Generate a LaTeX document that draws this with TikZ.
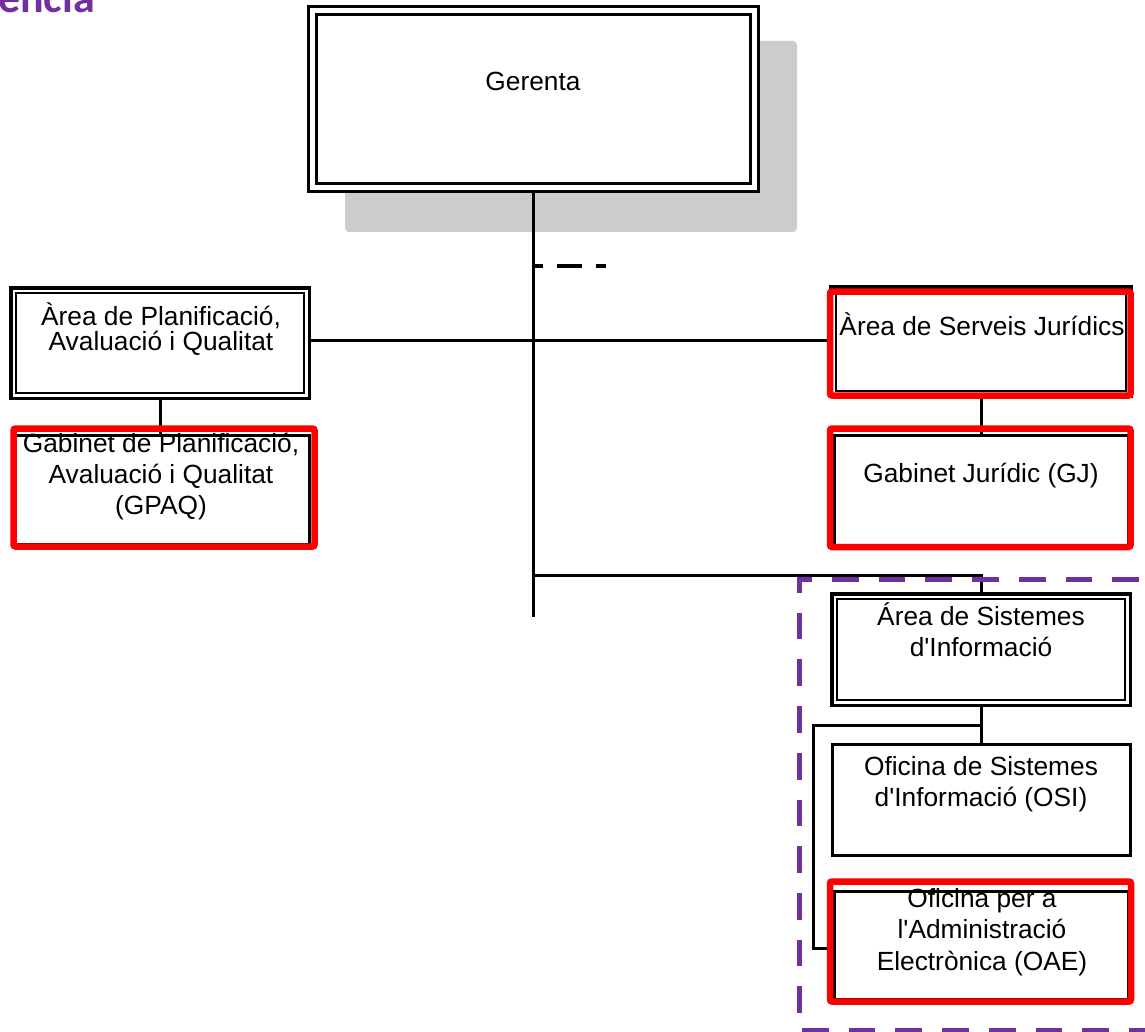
\documentclass[tikz,border=0pt]{standalone}
\usepackage{fontspec}
\setmainfont{Liberation Sans}[Ligatures=TeXOff]
\newfontfamily\titlefont{Carlito}
\usetikzlibrary{backgrounds}
\definecolor{shadowgray}{HTML}{CCCCCC}
\definecolor{hlred}{HTML}{FF0000}
\definecolor{grppurple}{HTML}{7030A0}
\newcommand{\mlines}[1]{\vtop{\lineskiplimit=-1000pt\halign{\hfil##\hfil\cr#1\crcr}}}
\begin{document}
\begin{tikzpicture}[x=1pt,y=-1pt,
  conn/.style={draw=black, line width=3pt},
  stubline/.style={draw=black, line width=3.5pt, dash pattern=on 10pt off 14pt on 25pt off 14pt on 10pt off 200pt},
  gerbox/.style={draw=black, line width=3pt, double=white, double distance=5pt, fill=white, rectangle, inner sep=0pt, outer sep=0pt},
  dblbox/.style={draw=black, line width=3.5pt, fill=white, rectangle, inner sep=0pt, outer sep=0pt},
  innerline/.style={draw=black, line width=2pt},
  plainbox/.style={draw=black, line width=3pt, rectangle, inner sep=0pt, outer sep=0pt},
  redbox/.style={draw=hlred, line width=6.5pt, rectangle, rounded corners=2pt, inner sep=0pt, outer sep=0pt},
  lbl/.style={font=\fontsize{26.3}{31.7}\selectfont, inner sep=0pt, anchor=base, text=black},
  lbltight/.style={lbl, font=\fontsize{26.3}{25}\selectfont},
  titletext/.style={font=\titlefont\bfseries\fontsize{44}{50}\selectfont, text=grppurple, inner sep=0pt, anchor=base west},
  grpframe/.style={draw=grppurple, line width=5pt, dash pattern=on 26.7pt off 20pt, dash phase=35.6pt}
]
\useasboundingbox (0,0) rectangle (1145,1032);

% title (cut off at page edge, as in the reference)
\node[titletext] (title) at (-2,12.7) {ència};

% boxes
\node[gerbox, minimum width=441.5pt, minimum height=177.5pt] (ger) at (533.25,99.25) {};
\node[dblbox, minimum width=298.5pt, minimum height=110.5pt] (apaq) at (160,343) {};
\node[dblbox, minimum width=300.5pt, minimum height=109.5pt] (asj) at (981,341.5) {};
\node[dblbox, minimum width=298.5pt, minimum height=111.5pt] (asi) at (981,649.5) {};
\foreach \n in {apaq,asj,asi}
  \draw[innerline] ([shift={(5pt,5pt)}]\n.south west) rectangle ([shift={(-5pt,-5pt)}]\n.north east);
\node[plainbox, minimum width=294pt, minimum height=109pt] (gpaq) at (162,489.5) {};
\node[plainbox, minimum width=294pt, minimum height=110pt] (gj) at (981,490) {};
\node[plainbox, minimum width=298pt, minimum height=111pt] (osi) at (981,799.5) {};
\node[plainbox, minimum width=294pt, minimum height=107.5pt] (oae) at (981,945.25) {};

% red highlights
\node[redbox, minimum width=301pt, minimum height=118pt] (gpaqred) at (164,487.5) {};
\node[redbox, minimum width=300.5pt, minimum height=104pt] (asjred) at (980.25,343.5) {};
\node[redbox, minimum width=300.5pt, minimum height=118.5pt] (gjred) at (980.25,487.75) {};
\node[redbox, minimum width=301pt, minimum height=120pt] (oaered) at (980.5,941.5) {};

% group frame
\draw[grpframe] (1150,579) -- (799,579) -- (799,1030) -- (1150,1030);

% coordinates for connectors
\coordinate (trunkend) at (533.25,617);
\coordinate (hj) at (533.25,340.5);
\coordinate (lj) at (0,575.5);
\coordinate (stubY) at (0,266);
\coordinate (stubEnd) at (606.25,266);
\coordinate (brA) at (813,725.5);
\coordinate (brB) at (0,948);

\begin{scope}[on background layer]
  \fill[shadowgray, rounded corners=4pt] (345,41) rectangle (797,232);
  \draw[conn] (ger.south) -- (trunkend);
  \draw[stubline] (ger.south |- stubY) -- (stubEnd);
  \draw[conn] (apaq.east |- hj) -- (asj.west |- hj);
  \draw[conn] (apaq.south) -- (apaq.south |- gpaq.north);
  \draw[conn] (asj.south) -- (asj.south |- gj.north);
  \draw[conn] (ger.south |- lj) -| (asi.north);
  \draw[conn] (asi.south) -- (asi.south |- osi.north);
  \draw[conn] (asi.south |- brA) -- (brA) |- (oae.west |- brB);
\end{scope}

% texts
\node[lbl] (tger) at (533,90.5) {Gerenta};
\node[lbltight] (tapaq) at (161,325) {\mlines{Àrea de Planificació,\cr Avaluació i Qualitat}};
\node[lbl, font=\fontsize{26.3}{31}\selectfont] (tgpaq) at (161,452) {\mlines{Gabinet de Planificació,\cr Avaluació i Qualitat\cr (GPAQ)}};
\node[lbl] (tasj) at (982,335) {Àrea de Serveis Jurídics};
\node[lbl] (tgj) at (981,482.5) {Gabinet Jurídic (GJ)};
\node[lbl] (tasi) at (981,625) {\mlines{Área de Sistemes\cr d'Informació}};
\node[lbl] (tosi) at (981,775) {\mlines{Oficina de Sistemes\cr d'Informació (OSI)}};
\node[lbl] (toae) at (982,907) {\mlines{Oficina per a\cr l'Administració\cr Electrònica (OAE)}};
\end{tikzpicture}
\end{document}
